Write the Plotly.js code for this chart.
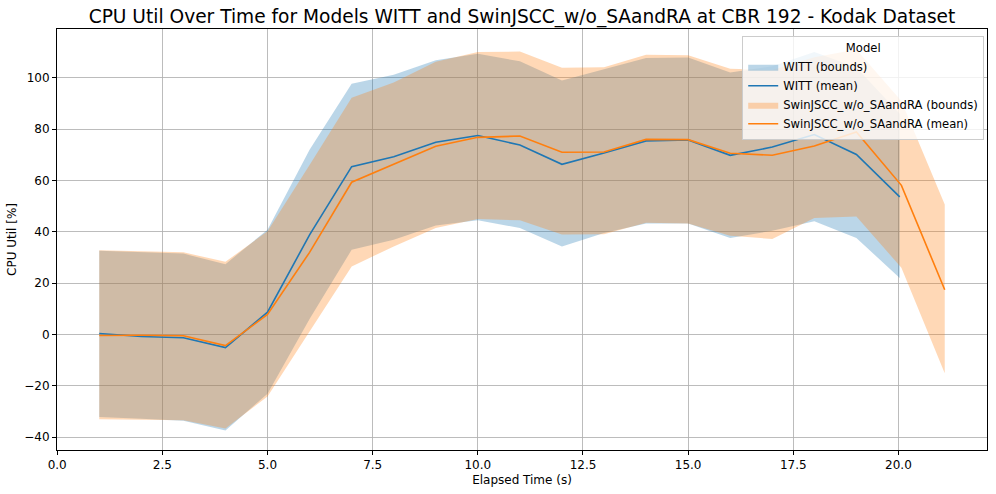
<!DOCTYPE html>
<html>
<head>
<meta charset="utf-8">
<script src="https://cdn.plot.ly/plotly-3.0.1.min.js"></script>
<style>html,body{margin:0;padding:0;background:#fff;}#chart{width:996px;height:494px;}</style>
</head>
<body>
<div id="chart"></div>
<script>
// Elapsed time (s)
const wittTime = [1, 2, 3, 4, 5, 6, 7, 8, 9, 10, 11, 12, 13, 14, 15, 16, 17, 18, 19, 20.03];
const swinTime = [1, 2, 3, 4, 5, 6, 7, 8, 9, 10, 11, 12, 13, 14, 15, 16, 17, 18, 19, 20.07, 21.1];

// WITT
const wittMean  = [0.4, -0.8, -1.3, -5.1, 8.7, 38.8, 65.4, 69.2, 74.9, 77.5, 73.8, 66.3, 70.7, 75.4, 75.8, 69.8, 73.0, 77.9, 70.1, 53.6];
const wittUpper = [32.6, 32.0, 31.5, 27.4, 40.8, 72.0, 97.7, 101.2, 106.8, 109.4, 106.4, 98.9, 103.2, 107.7, 107.9, 102.1, 104.5, 110.0, 104.0, 86.0];
const wittLower = [-32.1, -32.8, -33.6, -37.4, -23.1, 6.0, 33.0, 36.9, 42.5, 44.5, 41.5, 34.3, 39.5, 43.2, 43.2, 37.6, 40.4, 44.1, 37.6, 22.0];

// SwinJSCC_w/o_SAandRA
const swinMean  = [-0.4, -0.3, -0.5, -4.3, 7.8, 32.0, 59.3, 66.4, 73.3, 76.8, 77.3, 71.0, 71.1, 76.0, 75.9, 70.6, 69.8, 73.4, 78.9, 58.1, 17.4];
const swinUpper = [32.8, 32.5, 32.0, 28.3, 40.2, 66.0, 92.2, 98.2, 106.2, 110.0, 110.2, 103.9, 104.1, 109.0, 108.8, 103.5, 103.0, 108.0, 111.0, 91.0, 50.6];
const swinLower = [-33.0, -33.2, -33.4, -36.6, -24.2, 1.0, 26.5, 34.3, 41.5, 45.0, 44.5, 38.9, 39.0, 43.5, 43.2, 38.5, 37.2, 45.4, 46.0, 26.0, -15.1];

const xTicks = [0, 2.5, 5, 7.5, 10, 12.5, 15, 17.5, 20];
const yTicks = [-40, -20, 0, 20, 40, 60, 80, 100];

function band(x, up, lo) {
  return {
    x: x.concat(x.slice().reverse()),
    y: up.concat(lo.slice().reverse())
  };
}

const wb = band(wittTime, wittUpper, wittLower);
const sb = band(swinTime, swinUpper, swinLower);

const traces = [
  {x: wb.x, y: wb.y, type: 'scatter', mode: 'lines', fill: 'toself',
   fillcolor: 'rgba(31,119,180,0.3)', line: {width: 0, color: 'rgba(31,119,180,0)'},
   name: 'WITT (bounds)', legendrank: 1, hoverinfo: 'skip'},
  {x: sb.x, y: sb.y, type: 'scatter', mode: 'lines', fill: 'toself',
   fillcolor: 'rgba(255,127,14,0.3)', line: {width: 0, color: 'rgba(255,127,14,0)'},
   name: 'SwinJSCC_w/o_SAandRA (bounds)', legendrank: 3, hoverinfo: 'skip'},
  {x: wittTime, y: wittMean, type: 'scatter', mode: 'lines',
   line: {color: '#1f77b4', width: 1.6}, name: 'WITT (mean)', legendrank: 2},
  {x: swinTime, y: swinMean, type: 'scatter', mode: 'lines',
   line: {color: '#ff7f0e', width: 1.6}, name: 'SwinJSCC_w/o_SAandRA (mean)', legendrank: 4}
];

const font = {family: 'DejaVu Sans, sans-serif', color: '#000'};

const layout = {
  width: 996, height: 494,
  margin: {l: 57, r: 9, t: 29, b: 44, pad: 0},
  paper_bgcolor: '#fff', plot_bgcolor: '#fff',
  font: Object.assign({size: 12}, font),
  title: {text: 'CPU Util Over Time for Models WITT and SwinJSCC_w/o_SAandRA at CBR 192 - Kodak Dataset',
          font: Object.assign({size: 18.6}, font), xref: 'paper', x: 0.5, xanchor: 'center', y: 0.967, yanchor: 'middle'},
  xaxis: {
    range: [-0.005, 22.105], tickvals: xTicks, ticktext: xTicks.map(v => v.toFixed(1)),
    showgrid: true, gridcolor: 'rgba(176,176,176,0.85)', gridwidth: 1,
    showline: true, mirror: true, linecolor: '#000', linewidth: 1,
    ticks: 'outside', ticklen: 4, tickcolor: '#000', zeroline: false,
    tickfont: Object.assign({size: 12}, font),
    title: {text: 'Elapsed Time (s)', font: Object.assign({size: 12}, font), standoff: 4}
  },
  yaxis: {
    range: [-45, 119], tickvals: yTicks,
    showgrid: true, gridcolor: 'rgba(176,176,176,0.85)', gridwidth: 1,
    showline: true, mirror: true, linecolor: '#000', linewidth: 1,
    ticks: 'outside', ticklen: 4, tickcolor: '#000', zeroline: false,
    tickfont: Object.assign({size: 12}, font),
    title: {text: 'CPU Util [%]', font: Object.assign({size: 12}, font), standoff: 5}
  },
  legend: {
    x: 0.997, xanchor: 'right', y: 0.983, yanchor: 'top',
    bgcolor: 'rgba(255,255,255,0.8)', bordercolor: '#cccccc', borderwidth: 1,
    font: Object.assign({size: 11.6}, font),
    title: {text: 'Model', side: 'top center', font: Object.assign({size: 11.6}, font)},
    tracegroupgap: 0, itemwidth: 30, traceorder: 'normal'
  },
  showlegend: true
};

Plotly.newPlot('chart', traces, layout, {displayModeBar: false, staticPlot: true});
</script>
</body>
</html>
